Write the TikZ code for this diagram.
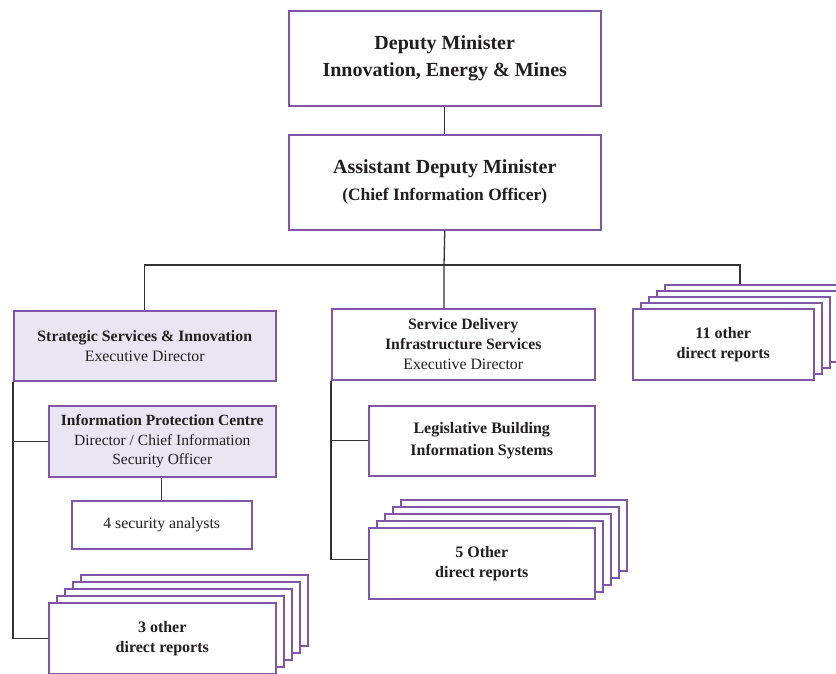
\documentclass[tikz,border=0pt]{standalone}
\usepackage{fontspec}
\setmainfont{Liberation Serif}
\usetikzlibrary{positioning}
\definecolor{boxline}{HTML}{7F56A8}
\definecolor{boxfill}{HTML}{E9E5F1}
\definecolor{ink}{HTML}{231F20}
\definecolor{wire}{HTML}{333333}
\tikzset{unit/.style={draw=boxline,line width=1.5pt,fill=white,align=center,text=ink,
                      inner sep=2pt,anchor=north west},
         shaded/.style={fill=boxfill},
         big/.style={font=\fontsize{20}{27}\selectfont\bfseries},
         small/.style={font=\fontsize{15.8}{20}\selectfont},
         heavy/.style={font=\fontsize{16}{20}\selectfont\bfseries},
         link/.style={draw=wire,line width=1.3pt},
         }
\begin{document}
\begin{tikzpicture}[x=1pt,y=-1pt]
\useasboundingbox (0,0) rectangle (836,673);
% top of the chart
\node[unit,big,minimum width=312,minimum height=95] (dm) at (288,10)
    {Deputy Minister\\Innovation, Energy \& Mines};
\node[unit,big,minimum width=312,minimum height=95] (adm) at (288,134)
    {Assistant Deputy Minister\\{\fontsize{17.4}{20}\selectfont (Chief Information Officer)}};
% second row
\node[unit,shaded,small,minimum width=262,minimum height=70] (ssi) at (13,310)
    {\textbf{Strategic Services \& Innovation}\\Executive Director};
\node[unit,small,minimum width=263,minimum height=71] (sdis) at (331,308)
    {\textbf{Service Delivery}\\\textbf{Infrastructure Services}\\Executive Director};
\foreach \k in {4,...,1}
    \node[unit,minimum width=181,minimum height=71] (r11-\k) at (632+8*\k,308-6*\k) {};
\node[unit,heavy,minimum width=181,minimum height=71]
    (r11-0) at (632,308) {11 other\\direct reports};
% left branch
\node[unit,shaded,small,font=\fontsize{15.5}{19.5}\selectfont,minimum width=227,minimum height=71] (ipc) at (48,405)
    {\textbf{Information Protection Centre}\\Director / Chief Information\\Security Officer};
\node[unit,small,minimum width=180,minimum height=48] (sec) at (71,500) {4 security analysts};
\foreach \k in {4,...,1}
    \node[unit,minimum width=227,minimum height=71] (r3-\k) at (48+8*\k,602-7*\k) {};
\node[unit,heavy,minimum width=227,minimum height=71]
    (r3-0) at (48,602) {3 other\\direct reports};
% middle branch
\node[unit,heavy,font=\fontsize{16}{22}\selectfont\bfseries,minimum width=226,minimum height=70] (lbis) at (368,405)
    {Legislative Building\\Information Systems};
\foreach \k in {4,...,1}
    \node[unit,minimum width=226,minimum height=71] (r5-\k) at (368+8*\k,527-7*\k) {};
\node[unit,heavy,minimum width=226,minimum height=71]
    (r5-0) at (368,527) {5 Other\\direct reports};
% connectors
\coordinate (bus) at (444,265);
\coordinate (bus11) at (740,265);
\draw[link] (dm) -- (adm);
\draw[link] (adm.south) -- (bus) -- (bus |- sdis.north);
\draw[link] (ssi.north) |- (bus11) -- (bus11 |- r11-4.north);
\draw[link] (ssi.south west) |- (r3-0.west);
\draw[link] (ssi.south west |- ipc.west) -- (ipc.west);
\draw[link] (ipc.south -| sec.north) -- (sec.north);
\draw[link] (sdis.south west) |- ([yshift=4pt]r5-0.west);
\draw[link] (sdis.south west |- lbis.west) -- (lbis.west);
\end{tikzpicture}
\end{document}
